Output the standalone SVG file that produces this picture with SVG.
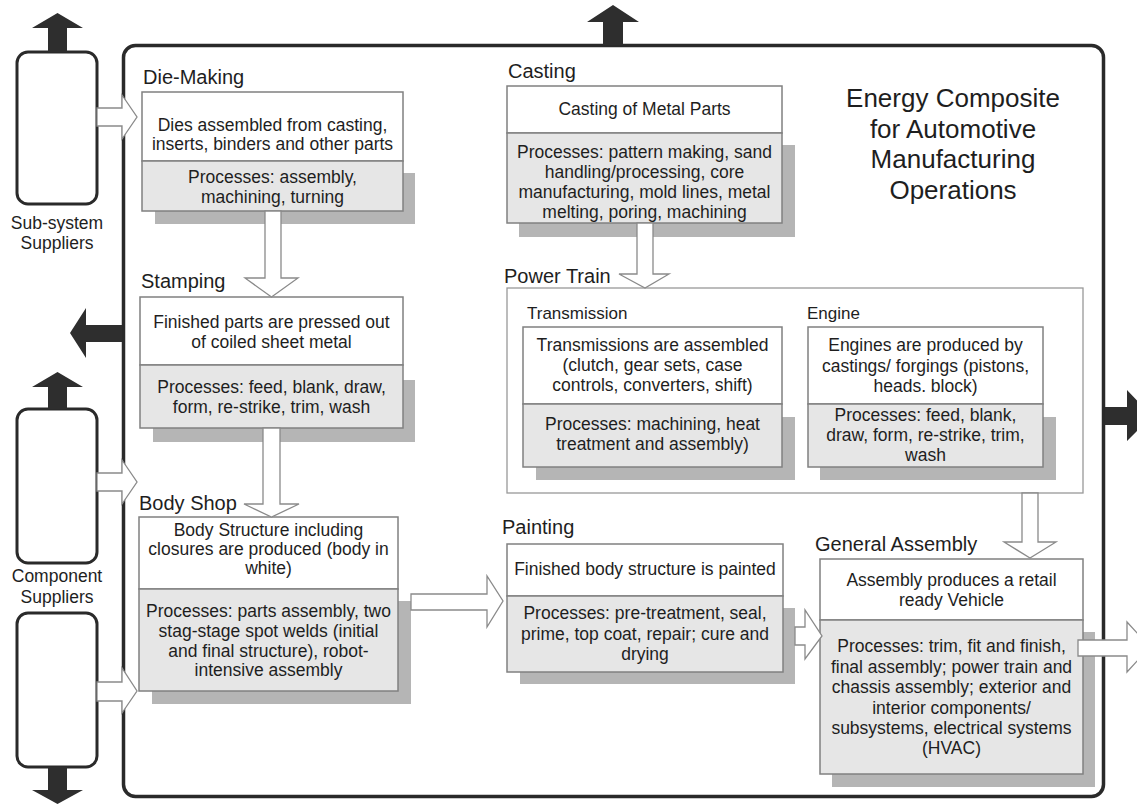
<svg xmlns="http://www.w3.org/2000/svg" width="1137" height="805" viewBox="0 0 1137 805">
<style>
text{font-family:"Liberation Sans",Arial,sans-serif;fill:#1e1e1e}
.t{font-size:17.5px;text-anchor:middle}
.lb{font-size:20px}
.sl{font-size:17px}
.ti{font-size:26px;text-anchor:middle}
.w{fill:#fff;stroke:#808080;stroke-width:1.5}
.g{fill:#e6e6e6;stroke:#808080;stroke-width:1.5}
.sh{fill:#b5b5b5}
.sup{fill:#fff;stroke:#2a2a2a;stroke-width:3}
.dk{fill:#2e2e2e}
.wa{fill:#fff;stroke:#8a8a8a;stroke-width:1.3;stroke-linejoin:miter}
</style>
<rect width="1137" height="805" fill="#fff"/>
<g id="frame">
<rect x="123.5" y="45.5" width="980" height="751" rx="12" fill="none" stroke="#2a2a2a" stroke-width="3.5"/>
<text class="ti" x="953" y="107">Energy Composite</text>
<text class="ti" x="953" y="137.5">for Automotive</text>
<text class="ti" x="953" y="168">Manufacturing</text>
<text class="ti" x="953" y="198.5">Operations</text>
</g>
<g id="subsystem-suppliers">
<rect class="sup" x="17" y="52" width="80" height="152" rx="11"/>
<text class="t" x="57" y="229">Sub-system</text>
<text class="t" x="57" y="249">Suppliers</text>
</g>
<g id="component-suppliers">
<rect class="sup" x="17" y="409" width="80" height="154" rx="11"/>
<rect class="sup" x="17" y="613" width="80" height="154" rx="11"/>
<text class="t" x="57" y="582">Component</text>
<text class="t" x="57" y="603">Suppliers</text>
</g>
<g id="die-making">
<text class="lb" x="143" y="84">Die-Making</text>
<rect class="sh" x="155" y="173" width="260" height="51"/>
<rect class="w" x="142" y="92" width="261" height="69"/>
<rect class="g" x="142" y="161" width="261" height="50"/>
<text class="t" x="272.5" y="131">Dies assembled from casting,</text>
<text class="t" x="272.5" y="150">inserts, binders and other parts</text>
<text class="t" x="272.5" y="183">Processes: assembly,</text>
<text class="t" x="272.5" y="203">machining, turning</text>
</g>
<g id="stamping">
<text class="lb" x="141" y="288">Stamping</text>
<rect class="sh" x="153" y="380" width="262" height="62"/>
<rect class="w" x="140" y="297" width="263" height="68"/>
<rect class="g" x="140" y="365" width="263" height="63"/>
<text class="t" x="271.5" y="328">Finished parts are pressed out</text>
<text class="t" x="271.5" y="348">of coiled sheet metal</text>
<text class="t" x="271.5" y="393">Processes: feed, blank, draw,</text>
<text class="t" x="271.5" y="413">form, re-strike, trim, wash</text>
</g>
<g id="body-shop">
<text class="lb" x="139" y="510">Body Shop</text>
<rect class="sh" x="152" y="601" width="259" height="103"/>
<rect class="w" x="139" y="517" width="259" height="72"/>
<rect class="g" x="139" y="589" width="259" height="102"/>
<text class="t" x="268.5" y="536">Body Structure including</text>
<text class="t" x="268.5" y="555">closures are produced (body in</text>
<text class="t" x="268.5" y="574">white)</text>
<text class="t" x="268.5" y="617">Processes: parts assembly, two</text>
<text class="t" x="268.5" y="637">stag-stage spot welds (initial</text>
<text class="t" x="268.5" y="657">and final structure), robot-</text>
<text class="t" x="268.5" y="676">intensive assembly</text>
</g>
<g id="casting">
<text class="lb" x="508" y="78">Casting</text>
<rect class="sh" x="519" y="145" width="276" height="92"/>
<rect class="w" x="507" y="86" width="275" height="47"/>
<rect class="g" x="507" y="133" width="275" height="90"/>
<text class="t" x="644.5" y="115">Casting of Metal Parts</text>
<text class="t" x="644.5" y="158">Processes: pattern making, sand</text>
<text class="t" x="644.5" y="178">handling/processing, core</text>
<text class="t" x="644.5" y="198">manufacturing, mold lines, metal</text>
<text class="t" x="644.5" y="218">melting, poring, machining</text>
</g>
<g id="power-train">
<text class="lb" x="504" y="283">Power Train</text>
<rect x="507" y="288" width="576" height="205" fill="#fff" stroke="#999" stroke-width="1.3"/>
</g>
<g id="transmission">
<text class="sl" x="527" y="319">Transmission</text>
<rect class="sh" x="536" y="417" width="259" height="63"/>
<rect class="w" x="523" y="327" width="259" height="77"/>
<rect class="g" x="523" y="404" width="259" height="63"/>
<text class="t" x="652.5" y="351">Transmissions are assembled</text>
<text class="t" x="652.5" y="371">(clutch, gear sets, case</text>
<text class="t" x="652.5" y="391">controls, converters, shift)</text>
<text class="t" x="652.5" y="430">Processes: machining, heat</text>
<text class="t" x="652.5" y="450">treatment and assembly)</text>
</g>
<g id="engine">
<text class="sl" x="807" y="319">Engine</text>
<rect class="sh" x="820" y="417" width="236" height="63"/>
<rect class="w" x="808" y="327" width="235" height="77"/>
<rect class="g" x="808" y="404" width="235" height="63"/>
<text class="t" x="925.5" y="351">Engines are produced by</text>
<text class="t" x="925.5" y="372">castings/ forgings (pistons,</text>
<text class="t" x="925.5" y="392">heads. block)</text>
<text class="t" x="925.5" y="421">Processes: feed, blank,</text>
<text class="t" x="925.5" y="441">draw, form, re-strike, trim,</text>
<text class="t" x="925.5" y="461">wash</text>
</g>
<g id="painting">
<text class="lb" x="502" y="534">Painting</text>
<rect class="sh" x="520" y="608" width="275" height="76"/>
<rect class="w" x="507" y="544" width="276" height="52"/>
<rect class="g" x="507" y="596" width="276" height="76"/>
<text class="t" x="645" y="575">Finished body structure is painted</text>
<text class="t" x="645" y="619">Processes: pre-treatment, seal,</text>
<text class="t" x="645" y="640">prime, top coat, repair; cure and</text>
<text class="t" x="645" y="660">drying</text>
</g>
<g id="general-assembly">
<text class="lb" x="815" y="551">General Assembly</text>
<rect class="sh" x="832" y="632" width="263" height="155"/>
<rect class="w" x="820" y="559" width="263" height="61"/>
<rect class="g" x="820" y="620" width="263" height="154"/>
<text class="t" x="951.5" y="586">Assembly produces a retail</text>
<text class="t" x="951.5" y="606">ready Vehicle</text>
<text class="t" x="951.5" y="652">Processes: trim, fit and finish,</text>
<text class="t" x="951.5" y="672.5">final assembly; power train and</text>
<text class="t" x="951.5" y="693">chassis assembly; exterior and</text>
<text class="t" x="951.5" y="713.5">interior components/</text>
<text class="t" x="951.5" y="734">subsystems, electrical systems</text>
<text class="t" x="951.5" y="754">(HVAC)</text>
</g>
<g id="connectors">
<polygon class="dk" points="603,45 603,22 587,22 613,5 639,22 623,22 623,45"/>
<polygon class="dk" points="48,52 48,28 32,28 57.5,13 83,28 67,28 67,52"/>
<polygon class="dk" points="48,409 48,387 32,387 57.5,372 83,387 67,387 67,409"/>
<polygon class="dk" points="48,767 48,790 32,790 57.5,804 83,790 67,790 67,767"/>
<polygon class="dk" points="122,325 86,325 86,308 70,333 86,358 86,342 122,342"/>
<polygon class="dk" points="1105,407 1127,407 1127,390 1152,416 1127,441 1127,425 1105,425"/>
<polygon class="wa" points="97,108 122,108 122,95 137,117 122,139 122,126 97,126"/>
<polygon class="wa" points="97,473 122,473 122,460 137,482 122,504 122,491 97,491"/>
<polygon class="wa" points="97,682 122,682 122,668 137,691 122,713 122,701 97,701"/>
<polygon class="wa" points="265,211 265,278 245,278 271.5,297 298,278 281,278 281,211"/>
<polygon class="wa" points="263,428 263,504 244,504 271.5,517 299,504 280,504 280,428"/>
<polygon class="wa" points="637,223 637,274 619,274 645,288 669,274 653,274 653,223"/>
<polygon class="wa" points="1022,493 1022,542 1004,542 1030,558 1056,542 1038,542 1038,493"/>
<polygon class="wa" points="411,594 487,594 487,576 503,601 487,627 487,610 411,610"/>
<polygon class="wa" points="795,627 805,627 805,610 822,636 805,659 805,645 795,645"/>
<polygon class="wa" points="1078,640 1127,640 1127,622 1150,647 1127,672 1127,656 1078,656"/>
</g>
</svg>
